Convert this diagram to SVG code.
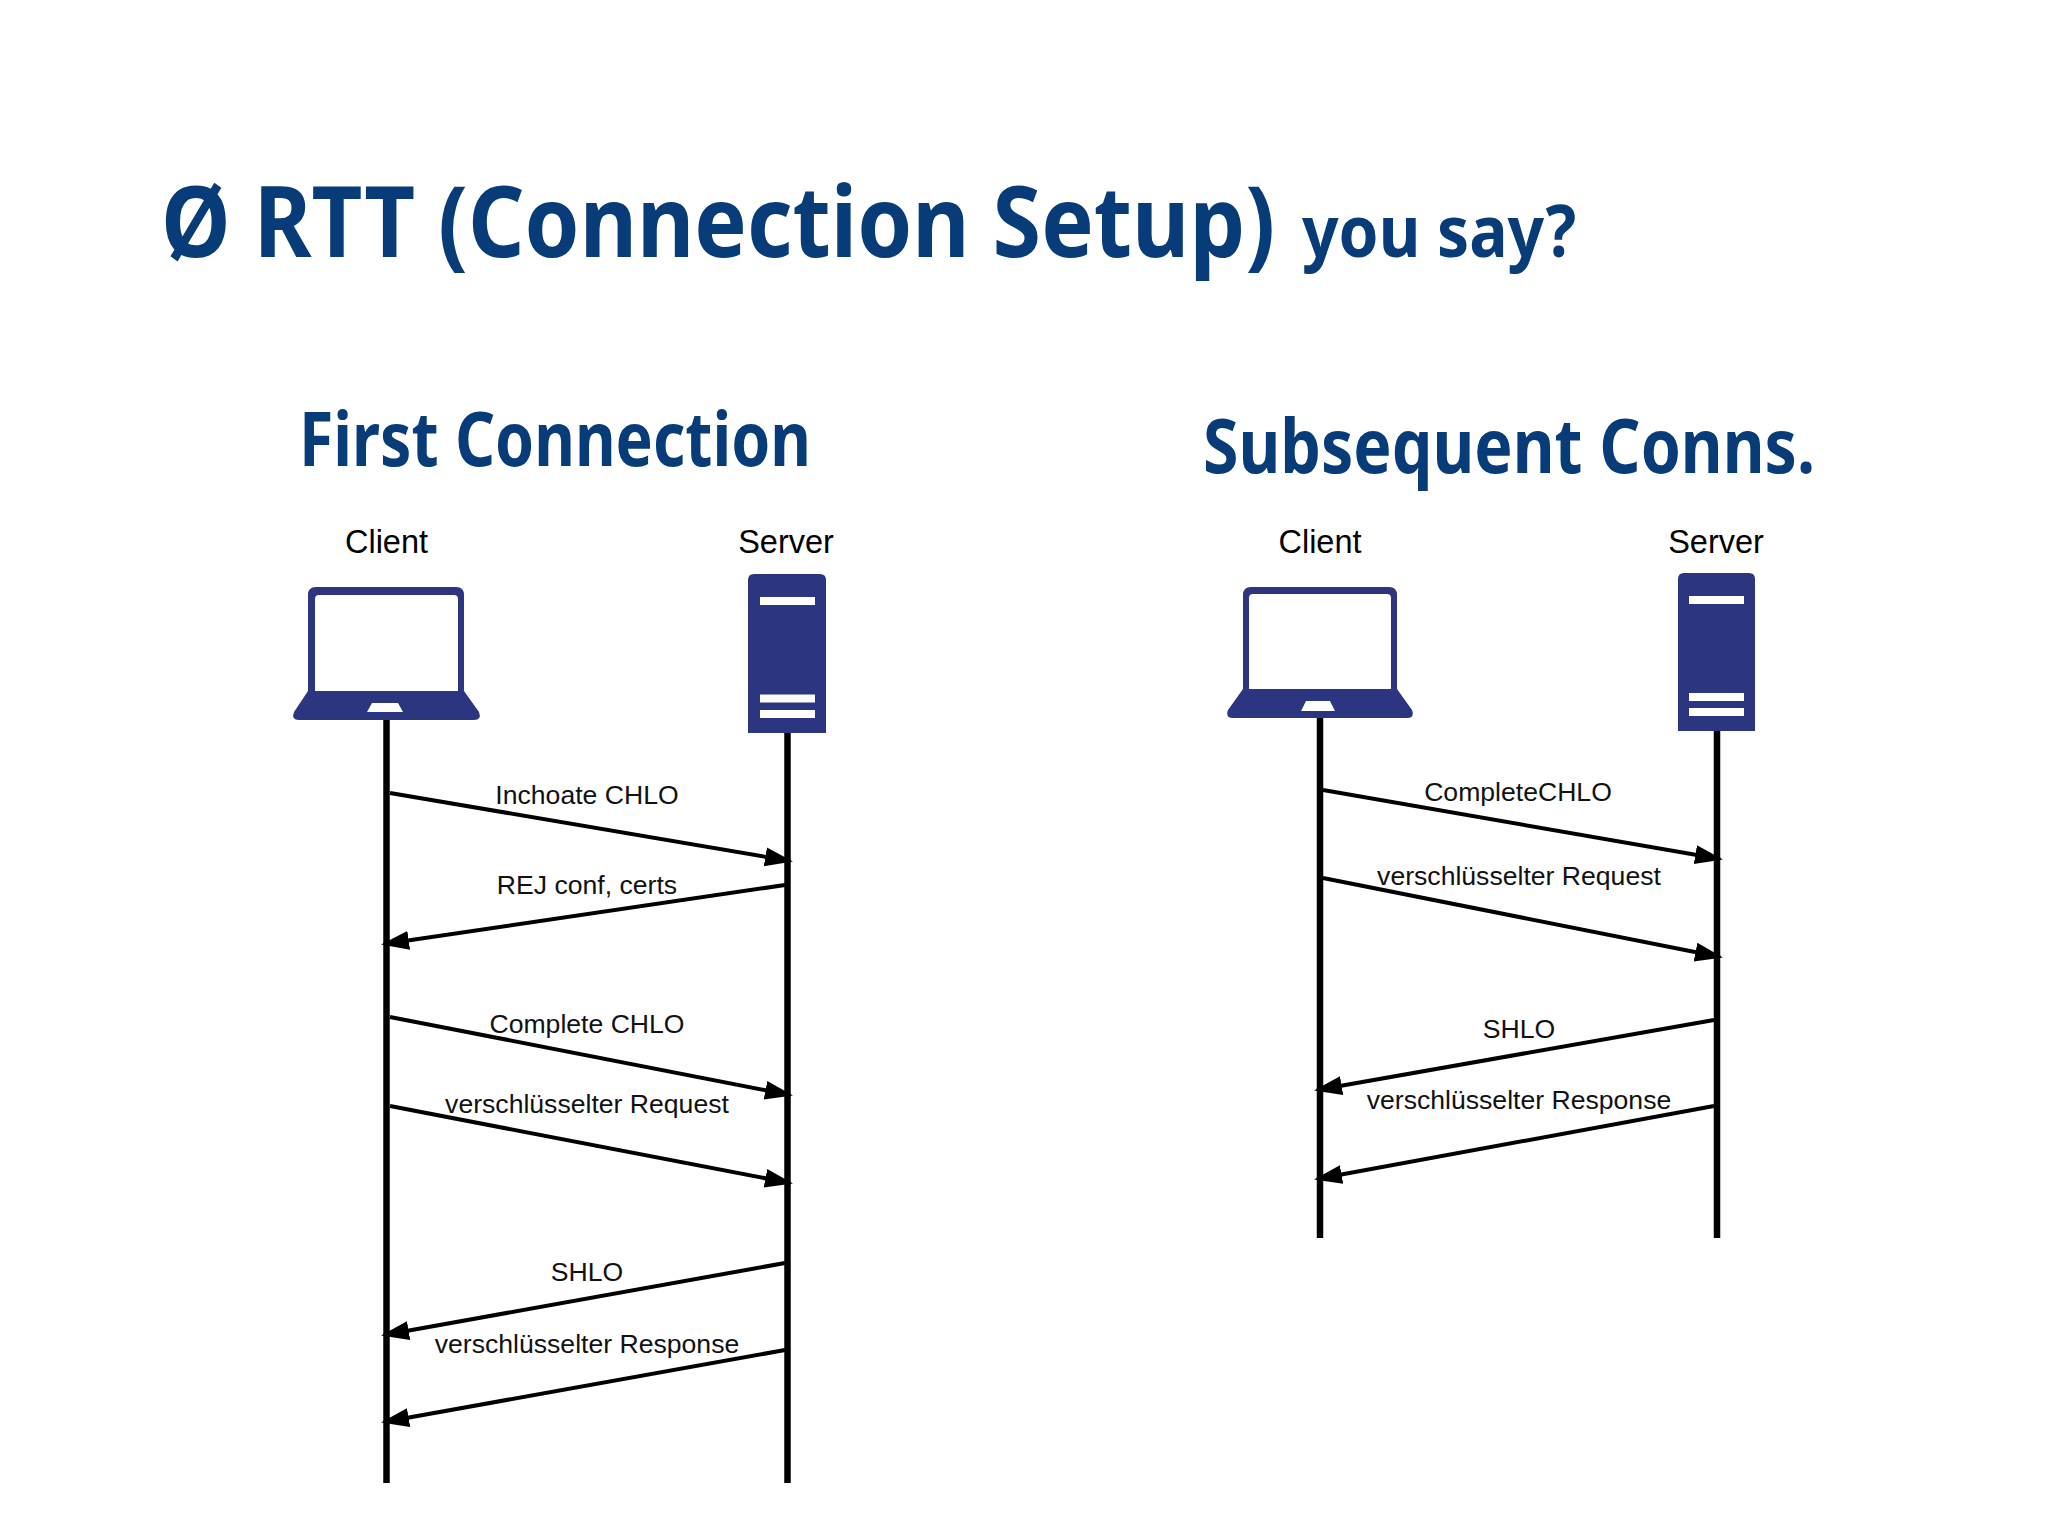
<svg xmlns="http://www.w3.org/2000/svg" width="2048" height="1536" viewBox="0 0 2048 1536">
<style>
.t{font-family:"Noto Sans","Open Sans",sans-serif;font-weight:700;fill:#073c79}
.h{font-family:"Liberation Sans",Arial,sans-serif;font-size:32.5px;fill:#000;text-anchor:middle}
.l{font-family:"Liberation Sans",Arial,sans-serif;font-size:26.6px;fill:#111;text-anchor:middle}
.life{stroke:#000;stroke-width:6.5;fill:none}
.msg{stroke:#000;stroke-width:4;fill:none;marker-end:url(#a)}
.n{fill:#2b3580}
.w{fill:#fff}
</style>
<defs>
<marker id="a" markerUnits="userSpaceOnUse" markerWidth="32" markerHeight="24" refX="25" refY="11" orient="auto"><path d="M0,1.500 L28,11 L0,20.500 Z" fill="#000"/></marker>
</defs>
<rect width="2048" height="1536" fill="#fff"/>
<g id="titles">
<text class="t" transform="translate(161,257) scale(0.897,1)" font-size="98" textLength="1242" lengthAdjust="spacingAndGlyphs">Ø RTT (Connection Setup)</text>
<text class="t" x="1302" y="257" font-size="72" textLength="274" lengthAdjust="spacingAndGlyphs">you say?</text>
<text class="t" x="299" y="466" font-size="75" textLength="512" lengthAdjust="spacingAndGlyphs">First Connection</text>
<text class="t" x="1203" y="473" font-size="75" textLength="612" lengthAdjust="spacingAndGlyphs">Subsequent Conns.</text>
</g>
<g id="connectors">
<path class="life" d="M386.500,720 V1483"/>
<path class="life" d="M787.500,733 V1483"/>
<path class="life" d="M1320,718 V1238"/>
<path class="life" d="M1717,731 V1238"/>
<path class="msg" d="M390,793 L790,861"/>
<path class="msg" d="M785,885 L384,944"/>
<path class="msg" d="M390,1017 L790,1095"/>
<path class="msg" d="M390,1106 L790,1183"/>
<path class="msg" d="M785,1263 L384,1335"/>
<path class="msg" d="M785,1350 L384,1422"/>
<path class="msg" d="M1323,790 L1720,859"/>
<path class="msg" d="M1323,878 L1720,957"/>
<path class="msg" d="M1714,1020 L1317,1090"/>
<path class="msg" d="M1714,1106 L1317,1179"/>
</g>
<g id="client-left">
<text class="h" x="386.500" y="553">Client</text>
<path class="n" fill-rule="evenodd" d="M316,587 H456 Q464,587 464,595 V691 L479,712 Q482,720 474,720 H299 Q291,720 294,712 L308,691 V595 Q308,587 316,587 Z M319,595 Q315,595 315,599 V691 H458 V599 Q458,595 454,595 Z M372,703 L367,712 H403 L398,703 Z"/>
</g>
<g id="server-left">
<text class="h" x="786" y="553">Server</text>
<path class="n" d="M754,574 H820 Q826,574 826,580 V733 H748 V580 Q748,574 754,574 Z"/>
<rect class="w" x="760" y="597" width="55" height="8"/>
<rect class="w" x="760" y="694.500" width="55" height="8"/>
<rect class="w" x="760" y="710" width="55" height="8"/>
</g>
<g id="client-right">
<text class="h" x="1320" y="553">Client</text>
<path class="n" fill-rule="evenodd" d="M1251,587 H1389 Q1397,587 1397,595 V689 L1412,710 Q1415,718 1407,718 H1233 Q1225,718 1228,710 L1243,689 V595 Q1243,587 1251,587 Z M1253,594 Q1249,594 1249,598 V689 H1391 V598 Q1391,594 1387,594 Z M1306,701 L1301,711 H1335 L1330,701 Z"/>
</g>
<g id="server-right">
<text class="h" x="1716" y="553">Server</text>
<path class="n" d="M1684,573 H1749 Q1755,573 1755,579 V731 H1678 V579 Q1678,573 1684,573 Z"/>
<rect class="w" x="1689" y="596" width="55" height="8"/>
<rect class="w" x="1689" y="693" width="55" height="8"/>
<rect class="w" x="1689" y="708" width="55" height="8"/>
</g>
<g id="labels">
<text class="l" x="587" y="803.500">Inchoate CHLO</text>
<text class="l" x="587" y="894">REJ conf, certs</text>
<text class="l" x="587" y="1033">Complete CHLO</text>
<text class="l" x="587" y="1113">verschlüsselter Request</text>
<text class="l" x="587" y="1281">SHLO</text>
<text class="l" x="587" y="1353">verschlüsselter Response</text>
<text class="l" x="1518" y="801">CompleteCHLO</text>
<text class="l" x="1519" y="885">verschlüsselter Request</text>
<text class="l" x="1519" y="1037.500">SHLO</text>
<text class="l" x="1519" y="1109">verschlüsselter Response</text>
</g>
</svg>
